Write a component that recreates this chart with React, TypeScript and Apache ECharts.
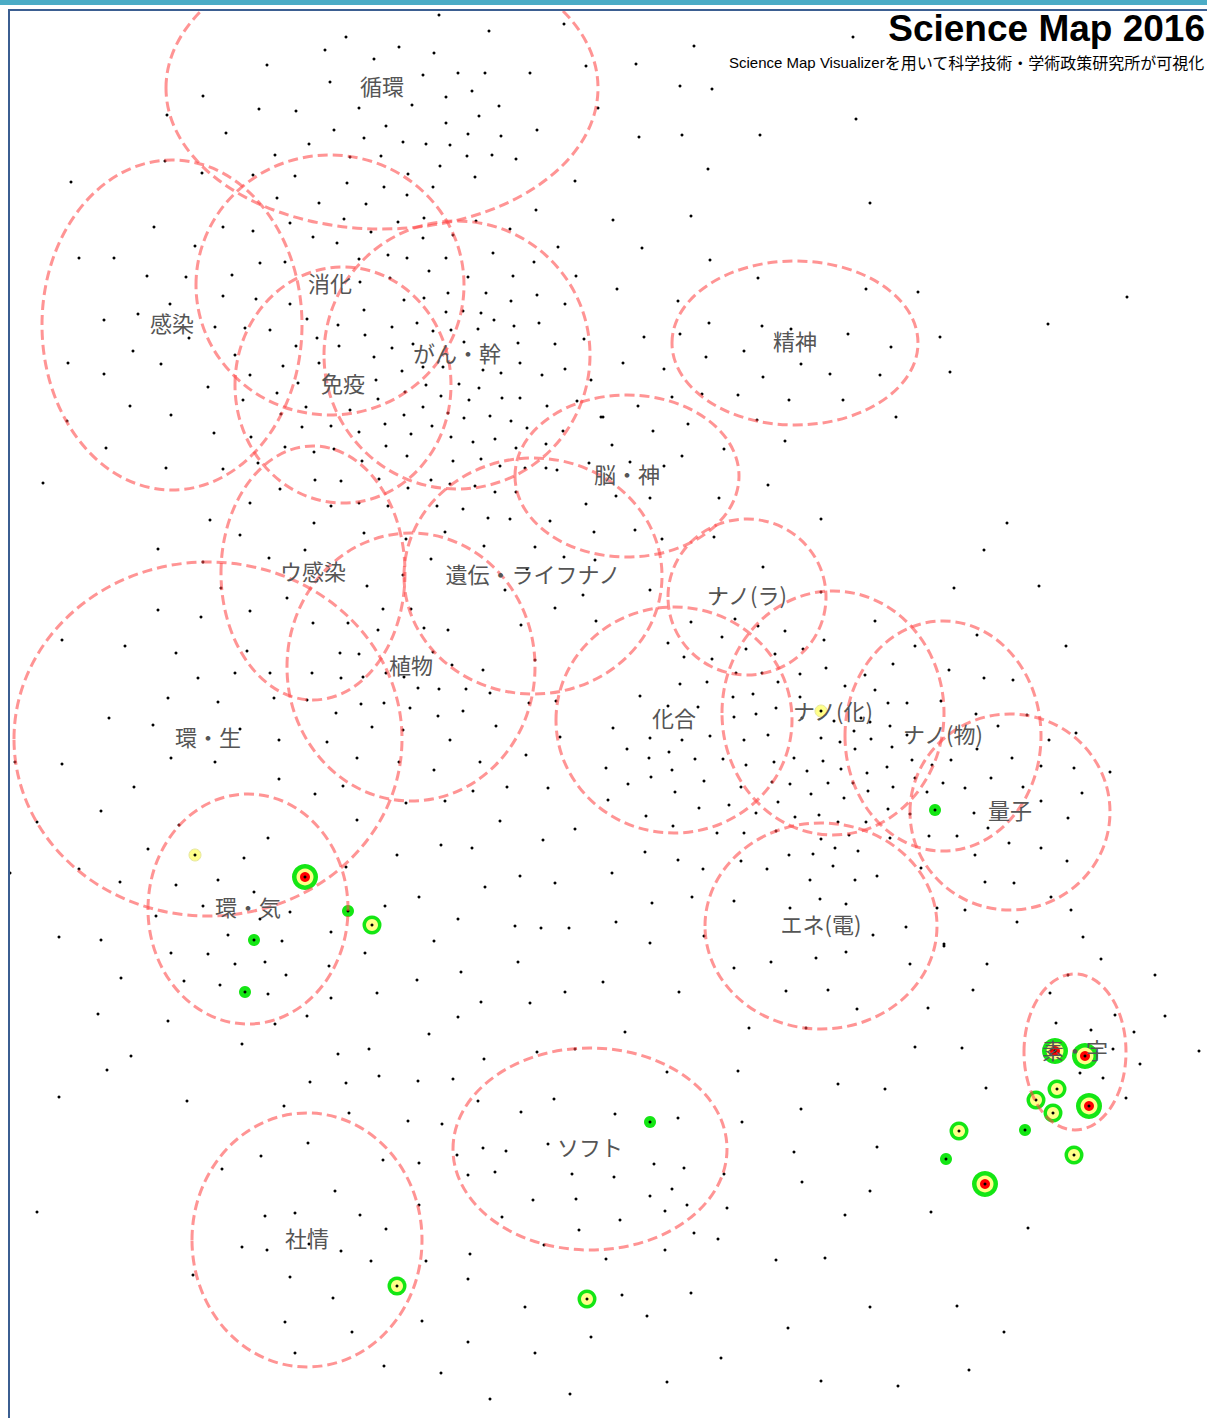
import React, { useEffect, useRef } from "react";
import * as echarts from "echarts";

// Research-area clusters (page pixel coordinates of the map)
const clusterNames = [
  "循環", "感染", "消化", "免疫", "がん・幹", "精神", "脳・神", "ウ感染", "遺伝・ライフナノ",
  "植物", "環・生", "環・気", "ナノ(ラ)", "化合", "ナノ(化)", "ナノ(物)", "量子", "エネ(電)",
  "素・宇", "ソフト", "社情",
];
const clusterCenters: [number, number][] = [
  [382, 88], [172, 325], [330, 285], [343, 385], [457, 355], [795, 343], [627, 476], [313, 573],
  [533, 576], [411, 667], [208, 739], [248, 909], [747, 597], [674, 720], [833, 713], [943, 736],
  [1010, 812], [821, 926], [1075, 1052], [590, 1149], [307, 1240],
];
const clusterRadii: [number, number][] = [
  [216, 141], [130, 165], [134, 130], [108, 118], [133, 134], [123, 82], [112, 81], [92, 127],
  [129, 118], [124, 134], [194, 177], [100, 115], [79, 78], [118, 113], [111, 122], [98, 115],
  [100, 98], [116, 103], [51, 78], [137, 101], [115, 127],
];

// Highlighted papers
const bigMarkers: [number, number][] = [[305, 877], [985, 1184], [1089, 1106], [1085, 1056], [1055, 1051]];
const midMarkers: [number, number][] = [[372, 925], [397, 1286], [587, 1299], [959, 1131], [1074, 1155], [1036, 1100], [1057, 1089], [1053, 1113]];
const greenMarkers: [number, number][] = [[348, 911], [254, 940], [245, 992], [935, 810], [650, 1122], [946, 1159], [1025, 1130]];
const yellowMarkers: [number, number][] = [[195, 855], [821, 711]];

// Research fronts (black dots)
const dots: [number, number][] = [
  [439,15],[564,24],[489,31],[346,37],[399,47],[325,50],[434,53],[374,59],[267,65],[586,66],[458,73],[485,73],[530,73],[423,75],[330,82],[472,91],[203,96],[446,97],[499,106],[412,105],[598,108],[259,109],[359,108],[296,111],[167,115],[479,116],[446,123],[386,126],[334,130],[537,130],[226,133],[468,134],[501,136],[364,138],[403,142],[426,144],[450,145],[309,144],[275,155],[381,156],[467,156],[492,155],[516,159],[350,157],[165,161],[440,166],[202,173],[253,175],[295,176],[408,174],[475,177],[575,181],[71,182],[347,183],[384,187],[433,187],[407,195],[277,198],[319,203],[366,204],[536,210],[344,219],[398,222],[424,218],[476,221],[223,227],[154,227],[253,231],[290,223],[371,232],[510,229],[453,235],[313,237],[337,243],[423,238],[558,247],[195,246],[493,253],[388,255],[407,258],[446,258],[359,259],[79,258],[114,258],[260,263],[285,262],[534,262],[429,271],[513,276],[576,276],[468,277],[232,275],[147,276],[186,277],[390,278],[360,282],[448,293],[486,293],[537,295],[223,296],[256,299],[424,298],[511,301],[404,300],[170,304],[290,304],[565,304],[364,310],[463,311],[446,312],[481,313],[138,314],[539,323],[494,320],[307,319],[338,325],[417,323],[104,320],[514,326],[392,327],[215,327],[245,328],[270,330],[451,330],[478,329],[433,331],[365,335],[189,338],[317,338],[584,339],[518,343],[464,342],[555,344],[296,346],[339,346],[392,348],[413,344],[133,351],[374,357],[235,355],[520,363],[423,367],[443,367],[68,363],[161,364],[319,363],[402,371],[483,370],[565,369],[283,366],[501,373],[104,374],[542,375],[250,375],[591,380],[298,383],[376,380],[459,384],[426,385],[208,387],[479,388],[277,393],[405,392],[441,396],[502,398],[520,398],[378,399],[469,400],[243,400],[577,401],[130,406],[547,406],[306,407],[423,407],[350,410],[601,417],[448,413],[404,415],[171,415],[281,414],[490,416],[464,418],[511,421],[67,421],[331,426],[385,424],[432,426],[302,427],[527,428],[563,431],[214,433],[359,432],[411,434],[251,437],[451,437],[495,439],[473,442],[546,444],[386,446],[285,447],[516,448],[106,448],[314,452],[334,449],[407,456],[453,461],[362,461],[481,459],[258,463],[589,463],[500,466],[166,468],[223,469],[546,468],[525,468],[557,470],
  [853,37],[694,46],[636,64],[680,86],[712,89],[856,119],[639,137],[682,135],[760,135],[708,169],[870,203],[613,220],[691,216],[642,248],[710,260],[617,289],[758,278],[866,289],[918,292],[1127,297],[678,301],[709,323],[762,326],[791,329],[848,334],[1048,324],[644,337],[680,334],[940,337],[891,347],[744,351],[706,357],[623,363],[664,369],[801,364],[763,377],[830,374],[880,375],[950,372],[702,394],[738,395],[672,397],[789,400],[843,400],[638,406],[603,417],[688,424],[757,420],[896,417],[653,431],[612,445],[724,449],[785,441],[682,456],[630,462],[664,466],
  [43,483],[315,480],[341,481],[379,479],[431,480],[450,484],[280,489],[408,488],[475,486],[495,492],[516,492],[250,503],[331,506],[359,503],[388,506],[437,506],[463,509],[586,504],[210,520],[314,523],[488,518],[510,519],[550,521],[240,535],[364,533],[445,532],[594,532],[406,539],[158,549],[305,550],[484,546],[535,547],[269,558],[431,559],[564,557],[595,560],[203,562],[403,575],[527,569],[367,586],[221,588],[505,590],[583,595],[287,598],[158,610],[383,609],[411,609],[555,608],[250,611],[201,617],[596,621],[313,623],[348,623],[424,628],[448,630],[521,625],[378,630],[62,640],[125,646],[176,653],[247,651],[340,653],[359,654],[433,652],[535,660],[452,665],[483,670],[312,673],[235,673],[270,673],[198,678],[341,678],[363,677],[386,673],[404,677],[418,688],[439,689],[466,689],[490,693],[168,698],[274,698],[307,700],[218,702],[361,704],[384,703],[556,701],[529,703],[410,708],[463,711],[438,716],[336,713],[109,718],[153,725],[372,727],[496,726],[240,729],[403,730],[279,740],[327,742],[450,740],[560,737],[171,758],[357,758],[526,755],[62,764],[215,762],[15,762],[399,762],[480,762],[434,770],[279,779],[343,786],[134,787],[507,787],[548,788],[315,794],[473,791],[445,801],[406,803],[101,811],[357,820],[500,821],[37,822],[179,825],[575,829],[268,838],[543,840],[441,845],[472,848],[148,849],[244,858],[397,855],[346,867],[79,869],[10,873],[218,880],[520,876],[555,883],[120,882],[176,885],[485,887],[254,892],[419,897],[385,906],[203,906],[290,912],[156,916],[458,919],[515,926],[541,928],[569,928],[260,919],[228,935],[331,932],[59,937],[101,940],[282,941],[434,941],
  [768,485],[616,496],[650,498],[719,498],[821,519],[1007,523],[635,530],[662,539],[714,537],[984,550],[763,567],[1039,586],[954,588],[650,590],[821,592],[719,595],[875,621],[735,619],[691,622],[758,626],[785,631],[977,635],[722,637],[824,640],[1066,646],[668,643],[915,646],[746,649],[803,649],[775,654],[684,657],[712,659],[893,664],[826,668],[949,670],[736,673],[762,673],[800,674],[865,675],[984,678],[1013,680],[707,682],[680,684],[778,682],[845,686],[875,690],[753,694],[800,697],[640,696],[733,697],[888,703],[907,703],[941,701],[698,707],[668,706],[776,708],[756,714],[734,717],[802,718],[976,714],[1027,715],[834,721],[861,718],[870,722],[613,728],[998,726],[890,726],[1076,733],[854,731],[650,738],[682,740],[710,736],[744,740],[768,735],[821,738],[840,742],[871,739],[907,735],[1049,740],[892,747],[855,749],[977,749],[627,749],[669,752],[649,758],[695,759],[723,759],[794,758],[823,761],[912,760],[951,760],[1012,758],[774,762],[746,765],[932,765],[606,768],[807,771],[841,769],[867,773],[887,767],[1041,766],[1074,768],[1110,772],[672,770],[915,778],[991,778],[651,777],[704,781],[772,782],[828,783],[943,783],[853,783],[628,784],[790,784],[893,787],[1023,787],[965,788],[741,787],[868,791],[927,792],[675,792],[1082,793],[811,794],[844,798],[608,800],[1041,801],[778,802],[699,808],[729,805],[974,813],[888,809],[1068,818],[756,813],[819,815],[910,814],[646,816],[795,817],[988,828],[866,822],[838,822],[673,826],[776,831],[744,833],[717,833],[849,835],[890,838],[929,836],[957,836],[821,839],[1009,843],[1041,848],[645,852],[858,851],[835,848],[813,854],[789,855],[975,855],[678,860],[741,861],[833,866],[1067,861],[767,869],[921,868],[703,869],[612,873],[877,876],[810,880],[855,880],[985,882],[1014,883],[692,897],[820,899],[734,901],[1051,897],[652,903],[846,904],[790,908],[937,908],[965,910],[1071,910],[1017,922],[616,922],[906,927],[873,935],[1083,937],[704,936],[650,943],[944,944],
  [171,953],[208,954],[365,953],[235,964],[265,962],[329,966],[518,962],[461,972],[121,978],[286,975],[417,980],[603,982],[184,981],[220,985],[268,994],[331,998],[377,993],[565,992],[530,1003],[481,1002],[98,1014],[307,1016],[458,1017],[168,1021],[275,1024],[429,1034],[242,1044],[369,1049],[338,1054],[537,1052],[575,1049],[131,1056],[484,1059],[107,1070],[379,1076],[310,1082],[346,1083],[418,1081],[453,1079],[59,1097],[187,1101],[478,1101],[554,1099],[284,1106],[349,1113],[521,1112],[408,1121],[442,1124],[308,1143],[548,1144],[483,1148],[506,1151],[261,1156],[457,1155],[383,1160],[419,1163],[222,1169],[468,1175],[495,1172],[572,1174],[335,1191],[533,1200],[576,1199],[419,1205],[37,1212],[265,1216],[295,1213],[360,1215],[502,1217],[386,1229],[579,1230],[309,1244],[242,1247],[267,1250],[341,1251],[544,1245],[470,1254],[371,1261],[426,1261],[193,1275],[290,1277],[468,1279],[333,1298],[525,1307],[422,1321],[285,1322],[591,1337],[352,1332],[468,1342],[535,1353],[295,1353],[384,1366],[441,1373],[570,1394],[490,1399],
  [944,946],[846,952],[771,962],[816,958],[734,968],[910,964],[987,964],[1101,959],[1155,975],[679,992],[786,991],[828,990],[973,990],[1068,975],[1050,993],[857,1009],[928,1008],[1115,1015],[1165,1016],[625,1032],[749,1028],[806,1028],[1056,1023],[1091,1030],[1134,1032],[915,1047],[962,1048],[1113,1049],[1199,1051],[1140,1064],[1080,1073],[1103,1078],[667,1072],[738,1071],[838,1084],[885,1089],[986,1088],[1126,1098],[801,1109],[615,1114],[678,1118],[742,1122],[877,1147],[794,1152],[654,1164],[684,1168],[614,1177],[724,1174],[802,1182],[672,1189],[870,1191],[650,1196],[687,1205],[665,1211],[727,1208],[931,1212],[845,1215],[620,1220],[1028,1228],[694,1233],[718,1239],[665,1250],[606,1259],[776,1260],[825,1258],[622,1295],[691,1293],[647,1316],[870,1307],[957,1306],[788,1328],[1004,1332],[721,1358],[969,1370],[667,1382],[821,1381],[898,1386],
];

const W = 1207;
const H = 1418;

export default function App() {
  const ref = useRef<HTMLDivElement>(null);
  useEffect(() => {
    const chart = echarts.init(ref.current as HTMLDivElement, null, { renderer: "svg" });
    const ellipseData = clusterCenters.map((c, i) => [c[0], c[1], clusterRadii[i][0], clusterRadii[i][1]]);
    const markerCenters = [...bigMarkers, ...midMarkers, ...greenMarkers, ...yellowMarkers];
    const sc = (data: any, size: number, color: string, z: number, extra: any = {}) => ({
      type: "scatter",
      data,
      symbol: "circle",
      symbolSize: size,
      itemStyle: { color, opacity: 1, ...extra },
      z,
      silent: true,
      animation: false,
    });
    const green = "#14e614";
    const yellow = "#ffff88";
    chart.setOption({
      animation: false,
      backgroundColor: "#ffffff",
      grid: { left: 0, top: 0, width: W, height: H, containLabel: false, outerBoundsMode: "none" },
      xAxis: { type: "value", min: 0, max: W, show: false },
      yAxis: { type: "value", min: 0, max: H, inverse: true, show: false },
      series: [
        sc(dots, 3, "#000000", 2),
        sc(bigMarkers, 26, green, 3),
        sc(bigMarkers, 17, yellow, 3),
        sc(bigMarkers, 10, "#ff0000", 3),
        sc(midMarkers, 19, green, 3),
        sc(midMarkers, 12, yellow, 3),
        sc(greenMarkers, 12, green, 3),
        sc(yellowMarkers, 12, yellow, 3, { borderColor: "#e6e6a0", borderWidth: 1 }),
        sc(markerCenters, 3, "#000000", 3),
        {
          type: "custom",
          data: ellipseData,
          encode: { x: 0, y: 1 },
          z: 4,
          silent: true,
          renderItem: (params: any, api: any) => {
            const c = api.coord([api.value(0), api.value(1)]);
            const s = api.size([api.value(2), api.value(3)]);
            return {
              type: "ellipse",
              shape: { cx: c[0], cy: c[1], rx: Math.abs(s[0]), ry: Math.abs(s[1]) },
              style: { fill: "none", stroke: "rgba(255,70,70,0.58)", lineWidth: 3, lineDash: [10, 5] },
            };
          },
        },
        {
          type: "custom",
          data: clusterCenters.map((c) => [c[0], c[1]]),
          encode: { x: 0, y: 1 },
          z: 5,
          silent: true,
          renderItem: (params: any, api: any) => {
            const c = api.coord([api.value(0), api.value(1)]);
            return {
              type: "text",
              x: c[0],
              y: c[1] - 3,
              style: {
                text: clusterNames[params.dataIndex],
                fill: "#555555",
                fontSize: 22,
                fontWeight: "normal",
                fontFamily: "Noto Sans CJK JP",
                align: "center",
                verticalAlign: "middle",
              },
            };
          },
        },
      ],
      graphic: [
        { type: "rect", z: 100, shape: { x: 0, y: 0, width: W, height: 9 }, style: { fill: "#ffffff" } },
        { type: "rect", z: 101, shape: { x: 0, y: 0, width: W, height: 5 }, style: { fill: "#4bacc6" } },
        { type: "rect", z: 101, shape: { x: 8, y: 9, width: W - 8, height: 2 }, style: { fill: "#3b5e91" } },
        { type: "rect", z: 101, shape: { x: 8, y: 9, width: 2, height: H - 9 }, style: { fill: "#3b5e91" } },
        {
          type: "text",
          z: 102,
          x: 1205,
          y: 28,
          style: {
            text: "Science Map 2016",
            fill: "#000000",
            fontSize: 37,
            fontWeight: "bold",
            fontFamily: "Liberation Sans",
            align: "right",
            verticalAlign: "middle",
          },
        },
        {
          type: "text",
          z: 102,
          x: 729,
          y: 62,
          style: {
            text: "{a|Science Map Visualizer}{b|を用いて科学技術・学術政策研究所が可視化}",
            verticalAlign: "middle",
            rich: {
              a: { fontSize: 15, fontFamily: "Liberation Sans", fill: "#000000" },
              b: { fontSize: 16, fontFamily: "Noto Sans CJK JP", fill: "#000000" },
            },
          },
        },
      ],
    });
    return () => chart.dispose();
  }, []);
  return (
    <div
      ref={ref}
      style={{ position: "absolute", left: 0, top: 0, width: W, height: H, background: "#ffffff" }}
    />
  );
}
